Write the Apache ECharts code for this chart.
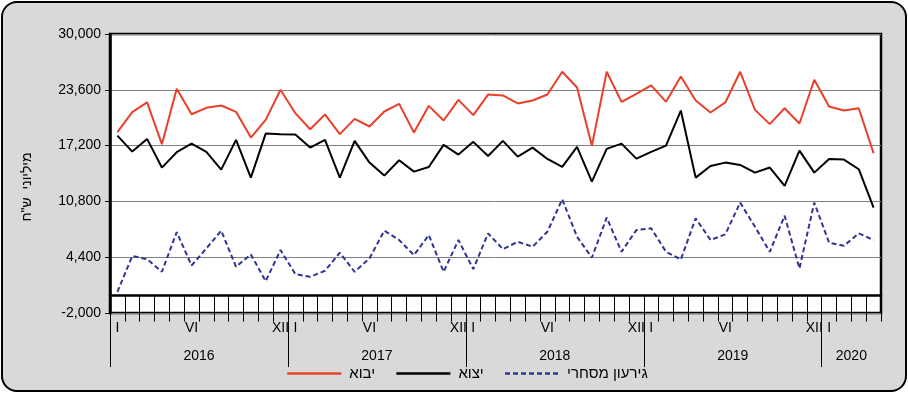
<!DOCTYPE html>
<html>
<head>
<meta charset="utf-8">
<script src="https://cdn.jsdelivr.net/npm/echarts@6/dist/echarts.min.js"></script>
<style>
html,body{margin:0;padding:0;background:#fff;}
#frame{position:absolute;left:1px;top:1px;width:902px;height:387px;border:2px solid #000;border-radius:16px;background:#d9d9d9;}
#chart{position:absolute;left:0;top:0;width:908px;height:393px;}
</style>
</head>
<body>
<div id="frame"></div>
<div id="chart"></div>
<script>
// ---- data ----
const years = ['2016', '2017', '2018', '2019', '2020'];
const monthsPerYear = [12, 12, 12, 12, 4];
const romanMonths = ['I','II','III','IV','V','VI','VII','VIII','IX','X','XI','XII'];
const shownMonthLabels = ['I', 'VI', 'XII'];
const yTicks = [-2000, 4400, 10800, 17200, 23600, 30000];

const imports = [
  18740, 21030, 22150, 17360, 23720, 20800, 21530, 21800, 21070, 18120, 20150, 23600,
  20920, 19080, 20770, 18510, 20270, 19390, 21110, 21990, 18700, 21760, 20080, 22450,
  20690, 23050, 22950, 22030, 22370, 23060, 25670, 23870, 17170, 25670, 22220, 23140,
  24100, 22220, 25130, 22370, 21000, 22150, 25670, 21300, 19660, 21490, 19730, 24750,
  21690, 21230, 21490, 16320
];
const exports = [
  18350, 16510, 17970, 14680, 16440, 17430, 16480, 14450, 17860, 13530, 18580, 18510,
  18480, 16970, 17860, 13530, 17740, 15250, 13760, 15520, 14220, 14750, 17280, 16170,
  17630, 16000, 17740, 15940, 16970, 15670, 14750, 17050, 13070, 16820, 17430, 15710,
  16480, 17200, 21220, 13530, 14870, 15250, 14980, 14100, 14680, 12570, 16630, 14100,
  15670, 15600, 14490, 10080
];
const deficit = [
   430, 4530, 4180, 2730, 7280, 3450, 5410, 7440, 3300, 4720, 1650, 5220,
  2460, 2150, 2840, 4910, 2730, 4260, 7440, 6370, 4640, 6940, 2730, 6370,
  3030, 7130, 5330, 6170, 5600, 7320, 11040, 6750, 4340, 8930, 5020, 7510,
  7710, 5020, 4140, 8860, 6370, 7020, 10660, 7900, 5020, 9160, 3110, 10660,
  6060, 5710, 7130, 6370
];
const seriesNames = ['יבוא', 'יצוא', 'גירעון מסחרי'];
const yAxisName = 'מיליוני  ש"ח';

// ---- build categories ----
const categories = [];
const yearStarts = [];
const yearMids = [];
let pos = 0;
years.forEach((y, yi) => {
  yearStarts.push(pos);
  yearMids.push(pos + monthsPerYear[yi] / 2);
  for (let m = 0; m < monthsPerYear[yi]; m++) categories.push(romanMonths[m]);
  pos += monthsPerYear[yi];
});
const total = pos;

const FONT = "'Liberation Sans','DejaVu Sans',sans-serif";

const chart = echarts.init(document.getElementById('chart'), null, {renderer: 'canvas'});
chart.setOption({
  backgroundColor: 'transparent',
  animation: false,
  textStyle: {fontFamily: FONT},
  grid: {left: 110, right: 27, top: 34, bottom: 80, show: true, backgroundColor: '#fff', borderColor: '#000', borderWidth: 2.5, containLabel: false},
  graphic: [{
    type: 'text', x: 27, y: 187, rotation: Math.PI / 2, silent: true,
    style: {text: yAxisName, align: 'center', verticalAlign: 'middle', fontSize: 14, fontFamily: FONT, fill: '#000'}
  }],
  legend: {
    bottom: 7, left: 281,
    itemWidth: 54, itemHeight: 12, itemGap: 20,
    itemStyle: {opacity: 0, borderWidth: 0},
    lineStyle: {width: 2.5},
    textStyle: {fontSize: 15, color: '#000', fontFamily: FONT, padding: [5, 0, 0, 3]},
    data: seriesNames
  },
  xAxis: [
    {
      type: 'category', data: categories, boundaryGap: true, position: 'bottom',
      axisLine: {show: true, lineStyle: {color: '#000', width: 2.5}},
      axisTick: {show: true, interval: 0, length: 26, lineStyle: {color: '#000', width: 1}},
      axisLabel: {interval: 0, margin: 8, fontSize: 14, color: '#000', fontFamily: FONT,
        formatter: v => shownMonthLabels.includes(v) ? v : ''},
      splitLine: {show: false}
    },
    {
      type: 'value', min: 0, max: total, position: 'bottom',
      axisLine: {show: false},
      axisTick: {show: true, customValues: yearStarts, length: 54, lineStyle: {color: '#000', width: 1}},
      axisLabel: {show: true, customValues: yearMids, margin: 36, fontSize: 14, color: '#000', fontFamily: FONT,
        formatter: v => { const i = yearMids.indexOf(v); return i >= 0 ? years[i] : ''; }},
      splitLine: {show: false}
    }
  ],
  yAxis: {
    type: 'value', min: yTicks[0], max: yTicks[yTicks.length - 1],
    axisLine: {show: true, lineStyle: {color: '#000', width: 2.5}},
    axisTick: {show: true, customValues: yTicks, length: 5, lineStyle: {color: '#000'}},
    axisLabel: {customValues: yTicks, margin: 9, fontSize: 14, color: '#000', fontFamily: FONT,
      formatter: v => v.toLocaleString('en-US')},
    splitLine: {show: true, lineStyle: {color: '#808080', width: 1}}
  },
  series: [
    {name: seriesNames[0], type: 'line', data: imports, symbol: 'none', lineStyle: {color: '#e8402a', width: 2}, itemStyle: {color: '#e8402a'}, z: 3},
    {name: seriesNames[1], type: 'line', data: exports, symbol: 'none', lineStyle: {color: '#000', width: 2}, itemStyle: {color: '#000'}, z: 3},
    {name: seriesNames[2], type: 'line', data: deficit, symbol: 'none', lineStyle: {color: '#2e3592', width: 2, type: [5, 3]}, itemStyle: {color: '#2e3592'}, z: 3}
  ]
});
</script>
</body>
</html>
